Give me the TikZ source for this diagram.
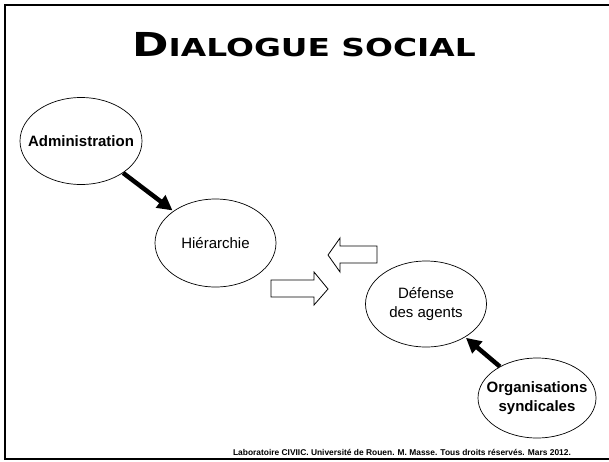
\documentclass[tikz,border=0pt]{standalone}
\usepackage{fontspec}
\setmainfont{Liberation Sans}
\newfontfamily\titlefont{DejaVu Sans}
\usetikzlibrary{arrows.meta,shapes.geometric}
\begin{document}
\begin{tikzpicture}[x=1pt,y=-1pt,
  bubble/.style={draw,ellipse,line width=0.7pt,inner sep=0pt,minimum width=121pt,minimum height=87pt},
  label/.style={align=center,inner sep=0pt,font=\fontsize{15}{18.5}\selectfont},
  bigarrow/.style={line width=4.5pt,-{Triangle[length=15pt,width=15pt]},shorten >=1pt},
  hollow/.style={draw,line width=0.8pt,fill=white,line join=miter},
  frameline/.style={line width=2.4pt}]
\useasboundingbox (0,0) rectangle (609,461);
\fill[white] (0,0) rectangle (609,461);
\draw[frameline] (609,5) -- (5,5) -- (5,459) -- (609,459);
\node[anchor=base] (title) at (304,56) {\scalebox{1.33}[1]{\titlefont\bfseries\fontsize{33}{33}\selectfont D\fontsize{24.7}{24.7}\selectfont IALOGUE SOCIAL}};
\node[bubble,minimum width=122pt,minimum height=87pt] (adm) at (81,141) {};
\node[label] (admtext) at (adm) {\bfseries Administration};
\node[bubble,minimum width=121pt,minimum height=88pt] (hier) at (215.5,243) {};
\node[label] (hiertext) at (hier) {Hiérarchie};
\node[bubble,minimum width=121pt,minimum height=86pt] (def) at (426,304) {};
\node[label] (deftext) at (def) {Défense\\des agents};
\node[bubble,minimum width=118pt,minimum height=80pt] (org) at (537,398) {};
\node[label] (orgtext) at (org) {\bfseries Organisations\\\bfseries syndicales};
\draw[bigarrow] (adm) -- (hier);
\draw[bigarrow] (org) -- (def);
\draw[hollow] (328,255) -- (340,238) -- (340,246) -- (377,246) -- (377,263) -- (340,263) -- (340,272) -- cycle;
\draw[hollow] (328,289) -- (314,272) -- (314,280) -- (271,280) -- (271,297) -- (314,297) -- (314,305) -- cycle;
\node[anchor=base,font=\bfseries\fontsize{8.4}{10}\selectfont] (foot) at (402,455) {Laboratoire CIVIIC. Université de Rouen. M. Masse. Tous droits réservés. Mars 2012.};
\end{tikzpicture}
\end{document}
